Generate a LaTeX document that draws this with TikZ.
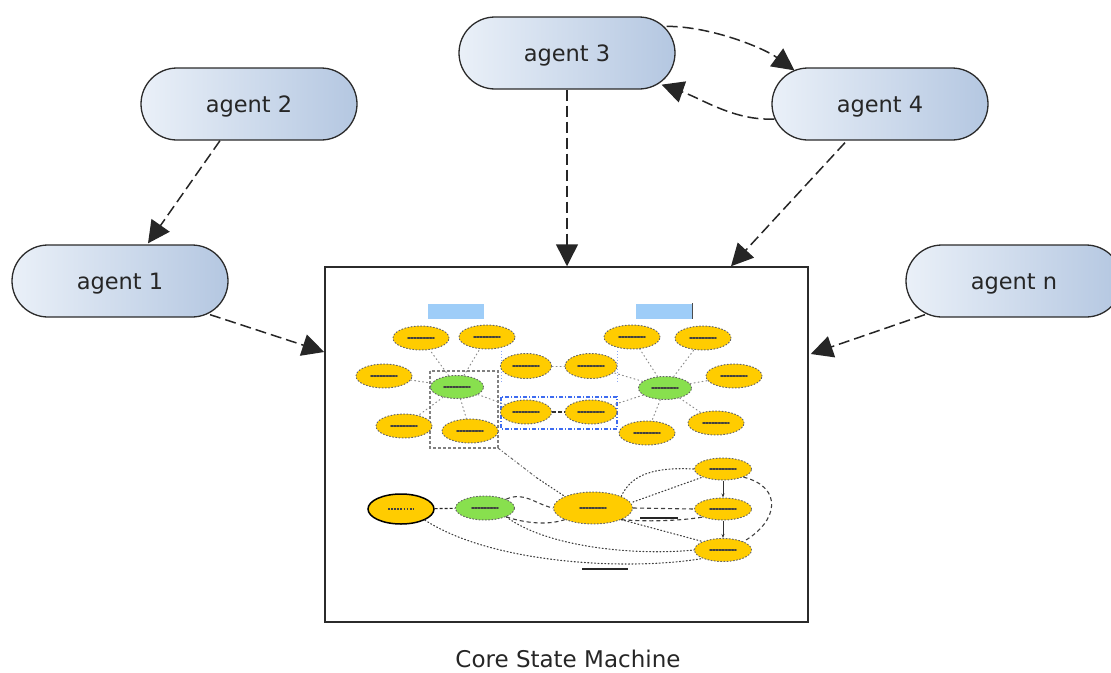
\documentclass[tikz,border=0pt]{standalone}
\usepackage{fontspec}
\setmainfont{DejaVu Sans}
\usetikzlibrary{arrows.meta,shapes.geometric,calc}

\definecolor{pillL}{HTML}{EAF0F8}
\definecolor{pillR}{HTML}{B4C7E1}
\definecolor{gold}{HTML}{FFCC00}
\definecolor{leaf}{HTML}{88E04E}
\definecolor{tagblue}{HTML}{9ECDF8}
\definecolor{edge}{HTML}{2B2B2B}
\definecolor{groupblue}{HTML}{3D6BF0}

\tikzset{
  agent/.style={rectangle, rounded corners=36pt, minimum width=216pt, minimum height=72pt,
    inner sep=0pt, draw=edge, line width=1.3pt, left color=pillL, right color=pillR,
    text=black!85, font=\fontsize{22.5}{26}\selectfont, text height=17pt, text depth=0pt},
  flow/.style={draw=black!85, line width=1.5pt, dash pattern=on 11pt off 5pt,
    -{Triangle[length=22pt,width=22pt]}},
  specks/.style={path picture={\draw[black!75, line width=1.7pt, dash pattern=on 1.8pt off 1.3pt]
    ([xshift=-13pt]path picture bounding box.center) -- ([xshift=13pt]path picture bounding box.center);}},
  bub/.style={ellipse, inner sep=0pt, minimum width=56pt, minimum height=24pt,
    draw=black!60, line width=1pt, dash pattern=on 1pt off 2.2pt, line cap=round, specks},
  ybub/.style={bub, fill=gold},
  gbub/.style={bub, fill=leaf},
  spoke/.style={draw=black!45, line width=1pt, dash pattern=on 1pt off 3pt, line cap=round},
  lnk/.style={draw=black!75, line width=1.1pt, dash pattern=on 4pt off 3pt},
  dots/.style={draw=black!75, line width=1.1pt, dash pattern=on 1pt off 2.4pt, line cap=round},
  tag/.style={rectangle, fill=tagblue, minimum width=56pt, minimum height=15pt, inner sep=0pt},
}

\begin{document}
\begin{tikzpicture}[x=1pt,y=-1pt]
\useasboundingbox (0,0) rectangle (1111,672);

% ---------------- agents ----------------
\node[agent] (a2) at (249,104) {agent 2};
\node[agent] (a1) at (120,281) {agent 1};
\node[agent] (a3) at (567,53)  {agent 3};
\node[agent] (a4) at (880,104) {agent 4};
\node[agent] (an) at (1014,281) {agent n};

% ---------------- core state machine frame ----------------
\node[draw=edge, line width=1.5pt, fill=white, minimum width=483pt, minimum height=355pt, inner sep=0pt]
  (core) at (566.5,444.5) {};
\node[font=\fontsize{23}{27}\selectfont, text=black!85, anchor=base, inner sep=0pt] (cap) at (568,667) {Core State Machine};

% ---------------- agent connectors ----------------
\draw[flow] ([xshift=-29pt]a2.south) -- ([xshift=28pt,yshift=1pt]a1.north);
\draw[flow] ([xshift=90pt,yshift=3pt]a1.south) -- ([yshift=92.5pt]core.west);
\draw[flow] (a3.south) -- (a3.south |- core.north);
\draw[flow] ([xshift=-35pt,yshift=-2pt]a4.south) -- ([xshift=164.5pt]core.north);
\draw[flow] ([xshift=-89pt,yshift=3pt]an.south) -- ([xshift=2pt,yshift=90.5pt]core.east);
\draw[flow] ([xshift=-9pt,yshift=-10pt]a3.north east) .. controls +(45,0) and +(-30,-22) .. ([xshift=23pt,yshift=-3pt]a4.north west);
\draw[flow] ([xshift=3pt,yshift=-15pt]a4.west) .. controls +(-40,2) and +(40,14) .. ([xshift=-14pt,yshift=5pt]a3.south east);

% ---------------- inner diagram: group frames ----------------
\coordinate (gA) at (430,371); \coordinate (gB) at (498,448);
\draw[draw=black!50, line width=1.1pt, dash pattern=on 3pt off 2pt] (gA) rectangle (gB);
\coordinate (bA) at (501,397); \coordinate (bB) at (617,429);
\draw[draw=groupblue, line width=1.2pt, dash pattern=on 4pt off 2pt on 1pt off 2pt] (bA) rectangle (bB);
\coordinate (tA) at (501,351); \coordinate (tB) at (617,383);
\draw[draw=groupblue!60, line width=1pt, dash pattern=on 1pt off 2pt] (tA) -- (tA |- tB);
\draw[draw=groupblue!60, line width=1pt, dash pattern=on 1pt off 2pt] (tB |- tA) -- (tB);

% title tags
\node[tag] (tagL) at (456,311.5) {};
\node[tag] (tagR) at (664,311) {};
\draw[black!70, line width=1.2pt] (tagR.north east) -- (tagR.south east);

% ---------------- inner diagram: bubbles ----------------
\node[ybub] (l1) at (421,338) {};
\node[ybub] (l2) at (487,337) {};
\node[ybub] (l3) at (384,376) {};
\node[ybub] (l4) at (404,426) {};
\node[ybub] (l5) at (470,431) {};
\node[gbub, minimum width=53pt, minimum height=23pt] (hubL) at (457,387) {};

\node[ybub, minimum width=51pt, minimum height=25pt] (m1) at (526,366) {};
\node[ybub, minimum width=52pt, minimum height=25pt] (m2) at (591,366) {};
\node[ybub, minimum width=51pt, minimum height=24pt] (m3) at (526,412) {};
\node[ybub, minimum width=52pt, minimum height=24pt] (m4) at (591,412) {};

\node[ybub] (r1) at (632,337) {};
\node[ybub] (r2) at (703,338) {};
\node[ybub] (r3) at (734,376) {};
\node[ybub] (r4) at (716,423) {};
\node[ybub] (r5) at (647,433) {};
\node[gbub, minimum width=53pt, minimum height=23pt] (hubR) at (665,388) {};

\node[ellipse, inner sep=0pt, minimum width=66pt, minimum height=30pt, fill=gold, draw=black, line width=1.5pt, specks] (s0) at (401,509) {};
\node[gbub, minimum width=59pt, minimum height=24pt] (s1) at (485,508) {};
\node[ybub, minimum width=79pt, minimum height=32pt] (s2) at (593,508) {};
\node[ybub, minimum width=57pt, minimum height=22pt] (s3) at (723,469) {};
\node[ybub, minimum width=57pt, minimum height=22pt] (s4) at (723,509) {};
\node[ybub, minimum width=57pt, minimum height=23pt] (s5) at (723,550) {};

% spokes from the two hubs
\foreach \n in {l1,l2,l3,l4,l5,m3} \draw[spoke] (hubL) -- (\n);
\foreach \n in {r1,r2,r3,r4,r5,m2,m4} \draw[spoke] (hubR) -- (\n);
\draw[spoke] (m1) -- (m2);
\draw[draw=black!80, line width=1.1pt, dash pattern=on 4pt off 2pt] (m3) -- (m4);

% link out of the left group
\coordinate (gOut) at (537,478);
\draw[draw=black!60, line width=1pt, dash pattern=on 3pt off 2pt on 1pt off 2pt] (gB) -- (gOut);

% ---------------- inner diagram: state transitions ----------------
\draw[draw=black!85, line width=1.1pt, dash pattern=on 3pt off 2pt] (s0) -- (s1);
\draw[lnk] (s1.north east) .. controls +(18,-8) and +(-18,-4) .. (s2.west);
\draw[lnk] (s1.south east) .. controls +(18,6) and +(-18,6) .. (s2.south west);
\draw[dots] (s1.south east) .. controls +(40,30) and +(-60,6) .. (s5.west);
\draw[dots] (s0.south east) .. controls +(70,45) and +(-70,12) .. (s5.south west);
\draw[draw=black!85, line width=1.3pt] (582,569) -- (628,569);
\draw[dots] (s2.north east) .. controls +(10,-22) and +(-40,-2) .. (s3.west);
\draw[dots] ([yshift=6pt]s2.east) -- (s3.south west);
\draw[lnk] (s2.east) -- (s4.west);
\draw[lnk] (s2.south east) .. controls +(25,2) and +(-25,4) .. (s4.south west);
\draw[draw=black!85, line width=1.3pt] (640,518) -- (678,518);
\draw[dots] (s2.south east) -- (s5.north west);
\draw[draw=black!80, line width=1pt, -{Stealth[length=4pt,width=3pt]}] (s3) -- (s4);
\draw[draw=black!80, line width=1pt, -{Stealth[length=4pt,width=3pt]}] (s4) -- (s5);
\draw[lnk] (s3.south east) .. controls +(40,10) and +(35,-20) .. (s5.north east);
\draw[dots] (gOut) -- (s2.north west);
\end{tikzpicture}
\end{document}
